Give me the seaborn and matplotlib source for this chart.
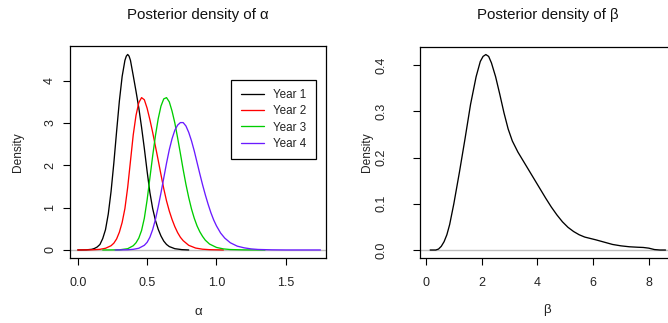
import numpy as np
import pandas as pd
import matplotlib
matplotlib.use("Agg")
import matplotlib.pyplot as plt
import seaborn as sns

# ---- data ----
year_labels = ["Year 1", "Year 2", "Year 3", "Year 4"]
year_colors = ["#000000", "#FF0000", "#00CD00", "#6A1BFF"]

alpha_x_y1 = [0.00, 0.06, 0.10, 0.12, 0.14, 0.16, 0.18, 0.20, 0.22, 0.24, 0.26, 0.28, 0.30,
              0.32, 0.34, 0.35, 0.36, 0.37, 0.38, 0.40, 0.42, 0.44, 0.46, 0.48, 0.50, 0.52,
              0.54, 0.56, 0.58, 0.60, 0.62, 0.64, 0.66, 0.70, 0.75, 0.80]
alpha_d_y1 = [0.0, 0.003, 0.015, 0.035, 0.07, 0.13, 0.27, 0.48, 0.85, 1.38, 2.05, 2.80, 3.52,
              4.10, 4.48, 4.58, 4.62, 4.58, 4.48, 4.12, 3.75, 3.36, 2.90, 2.40, 1.86, 1.36,
              0.98, 0.70, 0.49, 0.33, 0.21, 0.13, 0.08, 0.03, 0.008, 0.0]

alpha_x_y2 = [0.00, 0.10, 0.16, 0.20, 0.24, 0.26, 0.28, 0.30, 0.32, 0.34, 0.36, 0.38, 0.40,
              0.42, 0.44, 0.46, 0.48, 0.50, 0.52, 0.54, 0.56, 0.58, 0.60, 0.62, 0.64, 0.66,
              0.68, 0.70, 0.72, 0.74, 0.76, 0.80, 0.85, 0.90, 0.95, 1.05]
alpha_d_y2 = [0.0, 0.003, 0.015, 0.04, 0.10, 0.16, 0.26, 0.42, 0.65, 0.98, 1.48, 2.10, 2.72,
              3.18, 3.48, 3.60, 3.55, 3.35, 3.08, 2.78, 2.45, 2.12, 1.78, 1.45, 1.16, 0.92,
              0.72, 0.55, 0.41, 0.30, 0.22, 0.11, 0.045, 0.018, 0.007, 0.0]

alpha_x_y3 = [0.18, 0.30, 0.36, 0.40, 0.42, 0.44, 0.46, 0.48, 0.50, 0.52, 0.54, 0.56, 0.58,
              0.60, 0.62, 0.64, 0.66, 0.68, 0.70, 0.72, 0.74, 0.76, 0.78, 0.80, 0.82, 0.84,
              0.86, 0.88, 0.90, 0.92, 0.95, 1.00, 1.05, 1.10, 1.20, 1.35]
alpha_d_y3 = [0.0, 0.003, 0.03, 0.10, 0.17, 0.28, 0.46, 0.75, 1.18, 1.70, 2.22, 2.70, 3.10,
              3.40, 3.57, 3.60, 3.50, 3.28, 3.00, 2.65, 2.28, 1.90, 1.55, 1.24, 0.97, 0.75,
              0.57, 0.43, 0.32, 0.23, 0.14, 0.06, 0.025, 0.01, 0.002, 0.0]

alpha_x_y4 = [0.27, 0.36, 0.40, 0.44, 0.48, 0.50, 0.52, 0.54, 0.56, 0.58, 0.60, 0.62, 0.64,
              0.66, 0.68, 0.70, 0.72, 0.74, 0.76, 0.78, 0.80, 0.82, 0.84, 0.86, 0.88, 0.90,
              0.92, 0.94, 0.96, 0.98, 1.00, 1.03, 1.06, 1.10, 1.15, 1.20, 1.25, 1.30, 1.40,
              1.50, 1.75]
alpha_d_y4 = [0.0, 0.005, 0.015, 0.04, 0.11, 0.18, 0.30, 0.48, 0.72, 1.02, 1.35, 1.70, 2.05,
              2.37, 2.63, 2.83, 2.95, 3.01, 3.01, 2.93, 2.78, 2.58, 2.34, 2.07, 1.80, 1.54,
              1.30, 1.08, 0.88, 0.71, 0.57, 0.40, 0.28, 0.17, 0.09, 0.05, 0.025, 0.012, 0.003,
              0.0, 0.0]

beta_x = [0.15, 0.35, 0.45, 0.55, 0.65, 0.75, 0.85, 1.0, 1.2, 1.4, 1.6, 1.8, 1.95, 2.05, 2.15,
          2.25, 2.35, 2.5, 2.65, 2.8, 2.95, 3.1, 3.3, 3.5, 3.7, 3.9, 4.1, 4.3, 4.5, 4.7, 4.9,
          5.1, 5.3, 5.5, 5.7, 5.9, 6.1, 6.4, 6.7, 7.0, 7.3, 7.6, 7.8, 8.0, 8.2, 8.4, 8.6]
beta_d = [0.0, 0.0, 0.002, 0.008, 0.018, 0.033, 0.055, 0.100, 0.168, 0.240, 0.315, 0.375,
          0.408, 0.419, 0.423, 0.419, 0.405, 0.375, 0.337, 0.297, 0.262, 0.236, 0.212, 0.192,
          0.172, 0.152, 0.132, 0.112, 0.093, 0.076, 0.061, 0.049, 0.040, 0.033, 0.028, 0.025,
          0.022, 0.017, 0.012, 0.009, 0.007, 0.006, 0.0055, 0.004, 0.001, 0.0, 0.0]

alpha_xticks = [0.0, 0.5, 1.0, 1.5]
alpha_yticks = [0, 1, 2, 3, 4]
beta_xticks = [0, 2, 4, 6, 8]
beta_yticks = [0.0, 0.1, 0.2, 0.3, 0.4]

# ---- style ----
sns.set_theme(style="ticks")
plt.rcParams["font.family"] = ["Liberation Sans", "DejaVu Sans"]

W, H = 668, 323
fig = plt.figure(figsize=(W / 100, H / 100), dpi=100)

def px_axes(x0, x1, y0, y1):
    return fig.add_axes([x0 / W, 1 - y1 / H, (x1 - x0) / W, (y1 - y0) / H])

ax1 = px_axes(70, 326, 46, 258)
ax2 = px_axes(419.7, 675, 46.7, 258)

alpha_df = pd.concat([
    pd.DataFrame({"x": xs, "d": ds, "year": lab})
    for xs, ds, lab in zip([alpha_x_y1, alpha_x_y2, alpha_x_y3, alpha_x_y4],
                           [alpha_d_y1, alpha_d_y2, alpha_d_y3, alpha_d_y4], year_labels)
], ignore_index=True)
beta_df = pd.DataFrame({"x": beta_x, "d": beta_d})

TICK_FS = 9
LAB_FS = 8.6
TITLE_FS = 10.8
LW = 0.95

for ax in (ax1, ax2):
    ax.axhline(0, color="#BEBEBE", lw=1.0, zorder=1)

for lab, col in zip(year_labels, year_colors):
    sub = alpha_df[alpha_df["year"] == lab]
    sns.lineplot(data=sub, x="x", y="d", ax=ax1, color=col, lw=LW, label=lab,
                 estimator=None, sort=False, zorder=3)

sns.lineplot(data=beta_df, x="x", y="d", ax=ax2, color="black", lw=LW,
             estimator=None, sort=False, zorder=3, legend=False)

ax1.set_xlim(-0.056, 1.79)
ax1.set_ylim(-0.19, 4.82)
ax2.set_xlim(-0.225, 8.94)
ax2.set_ylim(-0.0173, 0.440)

ax1.set_xticks(alpha_xticks)
ax1.set_xticklabels(["0.0", "0.5", "1.0", "1.5"])
ax1.set_yticks(alpha_yticks)
ax1.set_yticklabels([str(v) for v in alpha_yticks])
ax2.set_xticks(beta_xticks)
ax2.set_xticklabels([str(v) for v in beta_xticks])
ax2.set_yticks(beta_yticks)
ax2.set_yticklabels(["0.0", "0.1", "0.2", "0.3", "0.4"])

for ax, ypad in ((ax1, 5.0), (ax2, 18.0)):
    for s in ax.spines.values():
        s.set_visible(True)
        s.set_color("black")
        s.set_linewidth(0.9)
    ax.tick_params(axis="both", direction="out", length=5, width=0.8, colors="black",
                   labelsize=TICK_FS, labelcolor="#222222")
    ax.tick_params(axis="x", pad=8.5)
    ax.tick_params(axis="y", pad=ypad, labelrotation=90)
    for t in ax.get_yticklabels():
        t.set_va("center")
    ax.grid(False)

ax1.set_xlabel("α", fontsize=LAB_FS + 1, color="#222222")
ax1.set_ylabel("Density", fontsize=LAB_FS, color="#222222")
ax2.set_xlabel("β", fontsize=LAB_FS + 1, color="#222222")
ax2.set_ylabel("Density", fontsize=LAB_FS, color="#222222")
ax1.xaxis.set_label_coords(0.5, -53.7 / 212)
ax1.xaxis.label.set_va("center")
ax2.xaxis.set_label_coords(0.5, -52.3 / 211.3)
ax2.xaxis.label.set_va("center")
ax1.yaxis.set_label_coords((18.3 - 70) / 256, 0.5)
ax1.yaxis.label.set_va("center")
ax2.yaxis.set_label_coords((367.3 - 419.7) / 255.3, 0.5)
ax2.yaxis.label.set_va("center")

ax1.set_title("Posterior density of α", fontsize=TITLE_FS, y=1 + 31 / 212, va="center",
              color="#111111", pad=0)
ax2.set_title("Posterior density of β", fontsize=TITLE_FS, y=1 + 31.7 / 211.3, va="center",
              color="#111111", pad=0)

leg = ax1.legend(loc="upper right", bbox_to_anchor=(0.961, 0.8396), borderaxespad=0,
                 fontsize=8.4, handlelength=2.0, handletextpad=0.8, labelspacing=0.35,
                 borderpad=0.8, fancybox=False, framealpha=1, edgecolor="black")
leg.get_frame().set_linewidth(0.9)
for t in leg.get_texts():
    t.set_color("#222222")

fig.savefig("out.png", dpi=100)
